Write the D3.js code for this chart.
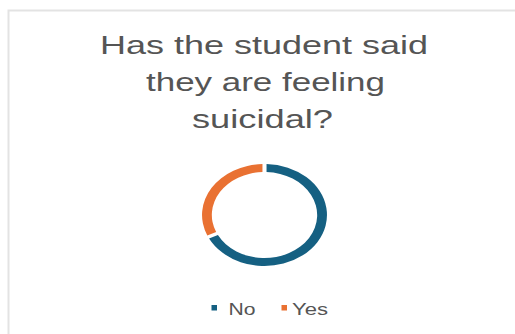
<!DOCTYPE html>
<html>
<head>
<meta charset="utf-8">
<script src="https://cdn.jsdelivr.net/npm/d3@7"></script>
<style>
  html, body { margin: 0; padding: 0; background: #ffffff; }
  svg { display: block; }
  text { font-family: "Liberation Sans", "Open Sans", sans-serif; }
</style>
</head>
<body>
<div id="chart"></div>
<script>
// ---- data ----
const categories = ["No", "Yes"];
const values = [15, 7];
const colors = ["#156082", "#E97132"];
const titleLines = ["Has the student said", "they are feeling", "suicidal?"];

// ---- layout ----
const W = 515, H = 334;
const svg = d3.select("#chart").append("svg")
  .attr("width", W).attr("height", H);

svg.append("rect").attr("width", W).attr("height", H).attr("fill", "#ffffff");

// chart area border (extends past the right and bottom edges)
svg.append("rect")
  .attr("x", 8.5).attr("y", 10.5)
  .attr("width", 530).attr("height", 340)
  .attr("fill", "none")
  .attr("stroke", "#e3e3e3")
  .attr("stroke-width", 2);

// title
const titleGeom = [
  { x: 100, y: 54, len: 328 },
  { x: 146, y: 91, len: 239 },
  { x: 192, y: 128, len: 141 }
];
svg.append("g").selectAll("text")
  .data(titleLines)
  .join("text")
  .attr("x", (d, i) => titleGeom[i].x)
  .attr("y", (d, i) => titleGeom[i].y)
  .attr("textLength", (d, i) => titleGeom[i].len)
  .attr("lengthAdjust", "spacingAndGlyphs")
  .attr("font-size", 25)
  .attr("fill", "#555555")
  .text(d => d);

// donut
const pie = d3.pie().sort(null).value(d => d.value).padAngle(0.05);
const arc = d3.arc().innerRadius(43).outerRadius(51);
const data = categories.map((c, i) => ({ category: c, value: values[i] }));
const color = d3.scaleOrdinal().domain(categories).range(colors);

svg.append("g")
  .attr("transform", "translate(264.5,215) scale(1.225,1)")
  .selectAll("path")
  .data(pie(data))
  .join("path")
  .attr("d", arc)
  .attr("fill", d => color(d.data.category));

// legend
const legendGeom = [
  { mx: 211.5, tx: 228.5, len: 27 },
  { mx: 281.5, tx: 292, len: 36 }
];
const lg = svg.append("g").selectAll("g")
  .data(categories)
  .join("g");
lg.append("rect")
  .attr("x", (d, i) => legendGeom[i].mx)
  .attr("y", 305)
  .attr("width", 5.5).attr("height", 5.5)
  .attr("fill", d => color(d));
lg.append("text")
  .attr("x", (d, i) => legendGeom[i].tx)
  .attr("y", 315)
  .attr("textLength", (d, i) => legendGeom[i].len)
  .attr("lengthAdjust", "spacingAndGlyphs")
  .attr("font-size", 16)
  .attr("fill", "#555555")
  .text(d => d);
</script>
</body>
</html>
